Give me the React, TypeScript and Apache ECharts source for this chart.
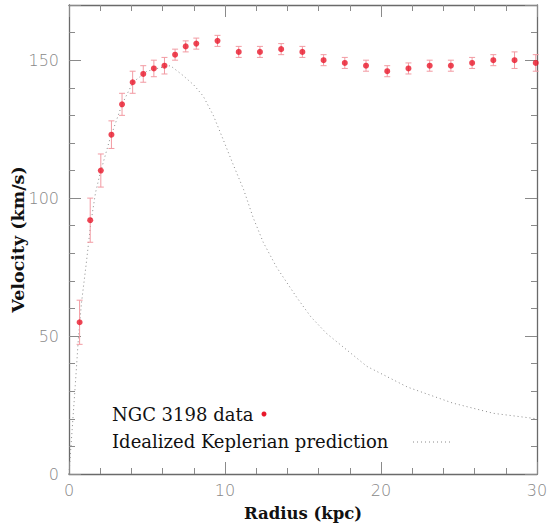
import React, { useEffect, useRef } from "react";
import * as echarts from "echarts";

// NGC 3198 rotation-curve measurements
const radius = [
  0.68, 1.36, 2.04, 2.72, 3.4, 4.08, 4.76, 5.44, 6.12, 6.8, 7.48, 8.16,
  9.52, 10.88, 12.24, 13.6, 14.96, 16.32, 17.68, 19.04, 20.4, 21.76, 23.12,
  24.48, 25.84, 27.2, 28.56, 29.92,
];
const velocity = [
  55, 92, 110, 123, 134, 142, 145, 147, 148, 152, 155, 156, 157, 153, 153,
  154, 153, 150, 149, 148, 146, 147, 148, 148, 149, 150, 150, 149,
];
const velocityError = [
  8, 8, 6, 5, 4, 4, 3, 3, 3, 2, 2, 2, 2, 2, 2, 2, 2, 2, 2, 2, 2, 2, 2, 2, 2,
  2, 3, 3,
];

// Idealized Keplerian prediction
const keplerRadius = [
  0, 0.2, 0.4, 0.6, 0.8, 1.1, 1.4, 1.7, 2.0, 2.6, 3.4, 4.1, 5.0, 6.0, 6.5,
  7.3, 8.0, 8.6, 9.25, 9.9, 10.5, 11.2, 11.8, 12.45, 13.3, 14.6, 15.5, 16.5,
  19.1, 21.7, 24.6, 27.2, 30,
];
const keplerVelocity = [
  0, 16, 32, 49, 62, 76, 91, 102, 109, 121, 134, 142, 146, 147.5, 148, 144.5,
  141, 137, 130, 121, 112.5, 103, 93, 84, 75, 64, 57, 51, 39, 31.5, 25.7, 22,
  20,
];

const legendLabels = ["NGC 3198 data", "Idealized Keplerian prediction"];
const xAxisName = "Radius (kpc)";
const yAxisName = "Velocity (km/s)";

const X_MIN = 0;
const X_MAX = 30;
const Y_MIN = 0;
const Y_MAX = 170;

const axisGray = "#6a6a6a";
const tickGray = "#8a8a8a";
const labelFont = "'DejaVu Sans', sans-serif";
const serif = "'DejaVu Serif', serif";

function makeX(position: "bottom" | "top", interval: number, tickLen: number, primary: boolean) {
  return {
    type: "value",
    min: X_MIN,
    max: X_MAX,
    interval,
    position,
    axisLine: { show: primary, onZero: false, lineStyle: { color: axisGray, width: 1.3 } },
    axisTick: { show: true, inside: true, length: tickLen, lineStyle: { color: tickGray, width: 1 } },
    axisLabel: {
      show: primary && position === "bottom",
      formatter: (v: number) => (v % 10 === 0 ? String(v) : ""),
      color: "#888888",
      fontSize: 16,
      fontFamily: labelFont,
      fontWeight: 200,
      margin: 8,
    },
    splitLine: { show: false },
    ...(primary && position === "bottom"
      ? {
          name: xAxisName,
          nameLocation: "middle",
          nameGap: 31,
          nameMoveOverlap: false,
          nameTextStyle: { color: "#111", fontSize: 16.5, fontWeight: "bold", fontFamily: serif },
        }
      : {}),
  };
}

function makeY(position: "left" | "right", interval: number, tickLen: number, primary: boolean) {
  return {
    type: "value",
    min: Y_MIN,
    max: Y_MAX,
    interval,
    position,
    axisLine: { show: primary, onZero: false, lineStyle: { color: axisGray, width: 1.3 } },
    axisTick: { show: true, inside: true, length: tickLen, lineStyle: { color: tickGray, width: 1 } },
    axisLabel: {
      show: primary && position === "left",
      formatter: (v: number) => (v % 50 === 0 ? String(v) : ""),
      color: "#888888",
      fontSize: 16,
      fontFamily: labelFont,
      fontWeight: 200,
      margin: 10,
    },
    splitLine: { show: false },
    ...(primary && position === "left"
      ? {
          name: yAxisName,
          nameLocation: "middle",
          nameGap: 42,
          nameMoveOverlap: false,
          nameTextStyle: { color: "#111", fontSize: 17.5, fontWeight: "bold", fontFamily: serif },
        }
      : {}),
  };
}

export default function App() {
  const ref = useRef<HTMLDivElement>(null);

  useEffect(() => {
    if (!ref.current) return;
    const chart = echarts.init(ref.current, null, { renderer: "svg" });

    const errorData = radius.map((r, i) => [r, velocity[i] - velocityError[i], velocity[i] + velocityError[i]]);
    const pointData = radius.map((r, i) => [r, velocity[i]]);
    const keplerData = keplerRadius.map((r, i) => [r, keplerVelocity[i]]);

    const option: any = {
      animation: false,
      backgroundColor: "#ffffff",
      grid: { left: 69, right: 11, top: 5, bottom: 55, containLabel: false, outerBoundsMode: "none" },
      xAxis: [
        makeX("bottom", 2, 6, true),
        makeX("bottom", 10, 12, false),
        makeX("top", 2, 6, true),
        makeX("top", 10, 12, false),
      ],
      yAxis: [
        makeY("left", 10, 6, true),
        makeY("left", 50, 12, false),
        makeY("right", 10, 6, true),
        makeY("right", 50, 12, false),
      ],
      series: [
        {
          name: legendLabels[1],
          type: "line",
          xAxisIndex: 0,
          yAxisIndex: 0,
          data: keplerData,
          symbol: "none",
          showSymbol: false,
          lineStyle: { color: "#8a8a8a", width: 1, type: [1, 3] },
          z: 2,
        },
        {
          type: "custom",
          xAxisIndex: 0,
          yAxisIndex: 0,
          data: errorData,
          encode: { x: 0, y: [1, 2] },
          renderItem: (_params: any, api: any) => {
            const x = api.value(0);
            const top = api.coord([x, api.value(2)]);
            const bot = api.coord([x, api.value(1)]);
            const w = 3;
            const style = { stroke: "#f29aa2", lineWidth: 1 };
            return {
              type: "group",
              children: [
                { type: "line", shape: { x1: top[0], y1: top[1], x2: bot[0], y2: bot[1] }, style },
                { type: "line", shape: { x1: top[0] - w, y1: top[1], x2: top[0] + w, y2: top[1] }, style },
                { type: "line", shape: { x1: bot[0] - w, y1: bot[1], x2: bot[0] + w, y2: bot[1] }, style },
              ],
            };
          },
          z: 3,
        },
        {
          name: legendLabels[0],
          type: "scatter",
          xAxisIndex: 0,
          yAxisIndex: 0,
          data: pointData,
          symbol: "circle",
          symbolSize: 6,
          itemStyle: { color: "#e8182a" },
          clip: false,
          z: 4,
        },
      ],
      graphic: [
        {
          type: "text",
          x: 112,
          y: 414,
          style: {
            text: legendLabels[0],
            font: `18px ${serif}`,
            fill: "#111",
            verticalAlign: "middle",
          },
        },
        {
          type: "circle",
          shape: { cx: 264, cy: 414, r: 2.5 },
          style: { fill: "#e8182a" },
        },
        {
          type: "text",
          x: 112,
          y: 441,
          style: {
            text: legendLabels[1],
            font: `18px ${serif}`,
            fill: "#111",
            verticalAlign: "middle",
          },
        },
        {
          type: "line",
          shape: { x1: 413, y1: 442, x2: 452, y2: 442 },
          style: { stroke: "#8a8a8a", lineWidth: 1, lineDash: [1, 3] },
        },
      ],
    };

    chart.setOption(option);
    return () => chart.dispose();
  }, []);

  return (
    <div
      ref={ref}
      style={{ position: "absolute", left: 0, top: 0, width: 548, height: 529, background: "#fff" }}
    />
  );
}
